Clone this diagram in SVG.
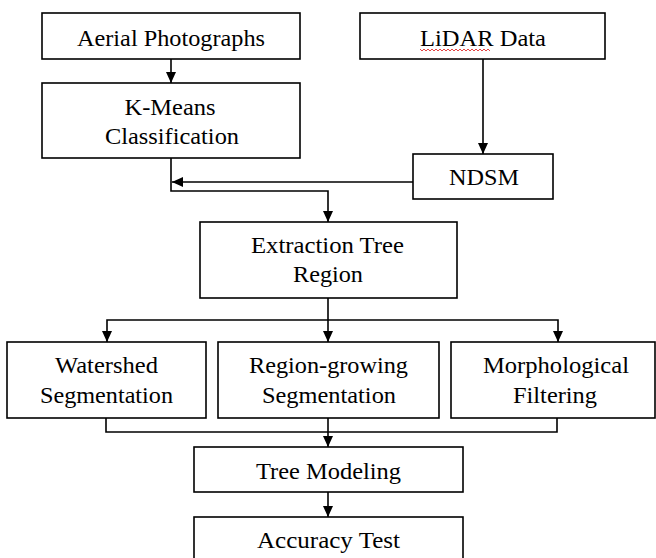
<svg xmlns="http://www.w3.org/2000/svg" width="656" height="558" viewBox="0 0 656 558">
<style>
.box{fill:#fff;stroke:#000;stroke-width:1.6}
.ln{fill:none;stroke:#000;stroke-width:1.6}
.t{font-family:"Liberation Serif","Times New Roman",serif;font-size:23px;fill:#000;text-anchor:middle}
</style>
<defs>
<marker id="ah" markerUnits="userSpaceOnUse" markerWidth="12" markerHeight="10" refX="11" refY="5" orient="auto">
<path d="M0,0 L11,5 L0,10 z" fill="#000"/>
</marker>
</defs>
<rect width="656" height="558" fill="#fff"/>
<g id="connectors">
<path class="ln" d="M171,59 V83" marker-end="url(#ah)"/>
<path class="ln" d="M483,59 V154" marker-end="url(#ah)"/>
<path class="ln" d="M413,182 H172" marker-end="url(#ah)"/>
<path class="ln" d="M171,158 V191 H328 V222" marker-end="url(#ah)"/>
<path class="ln" d="M328,298 V342" marker-end="url(#ah)"/>
<path class="ln" d="M328,320 H107 V342" marker-end="url(#ah)"/>
<path class="ln" d="M328,320 H558 V342" marker-end="url(#ah)"/>
<path class="ln" d="M106,418 V432 H557 V418"/>
<path class="ln" d="M328,418 V447" marker-end="url(#ah)"/>
<path class="ln" d="M328,492 V517" marker-end="url(#ah)"/>
</g>
<g id="aerial">
<rect class="box" x="42" y="13" width="258" height="46"/>
<text class="t" x="171" y="46" textLength="188" lengthAdjust="spacingAndGlyphs">Aerial Photographs</text>
</g>
<g id="lidar">
<rect class="box" x="360" y="13" width="245" height="46"/>
<text class="t" x="483" y="46" textLength="126" lengthAdjust="spacingAndGlyphs">LiDAR Data</text>
<polyline fill="none" stroke="#e03030" stroke-width="0.9" points="420,49 422,51 424,49 426,51 428,49 430,51 432,49 434,51 436,49 438,51 440,49 442,51 444,49 446,51 448,49 450,51 452,49 454,51 456,49 458,51 460,49 462,51 464,49 466,51 468,49 470,51 472,49 474,51 476,49 478,51 480,49 482,51 484,49 486,51 488,49 490,51"/>
</g>
<g id="kmeans">
<rect class="box" x="42" y="83" width="258" height="75"/>
<text class="t" x="170" y="115" textLength="91" lengthAdjust="spacingAndGlyphs">K-Means</text>
<text class="t" x="172" y="144" textLength="134" lengthAdjust="spacingAndGlyphs">Classification</text>
</g>
<g id="ndsm">
<rect class="box" x="413" y="154" width="140" height="45"/>
<text class="t" x="484" y="185" textLength="70" lengthAdjust="spacingAndGlyphs">NDSM</text>
</g>
<g id="extraction">
<rect class="box" x="200" y="222" width="257" height="76"/>
<text class="t" x="327.5" y="253" textLength="153" lengthAdjust="spacingAndGlyphs">Extraction Tree</text>
<text class="t" x="328" y="282" textLength="70" lengthAdjust="spacingAndGlyphs">Region</text>
</g>
<g id="watershed">
<rect class="box" x="7" y="342" width="199" height="76"/>
<text class="t" x="106.5" y="373" textLength="103" lengthAdjust="spacingAndGlyphs">Watershed</text>
<text class="t" x="106.5" y="403" textLength="133" lengthAdjust="spacingAndGlyphs">Segmentation</text>
</g>
<g id="regiongrowing">
<rect class="box" x="218" y="342" width="221" height="76"/>
<text class="t" x="328.5" y="373" textLength="159" lengthAdjust="spacingAndGlyphs">Region-growing</text>
<text class="t" x="329" y="403" textLength="134" lengthAdjust="spacingAndGlyphs">Segmentation</text>
</g>
<g id="morphological">
<rect class="box" x="451" y="342" width="204" height="76"/>
<text class="t" x="556" y="373" textLength="146" lengthAdjust="spacingAndGlyphs">Morphological</text>
<text class="t" x="555" y="403" textLength="84" lengthAdjust="spacingAndGlyphs">Filtering</text>
</g>
<g id="treemodeling">
<rect class="box" x="194" y="447" width="269" height="45"/>
<text class="t" x="328.5" y="479" textLength="145" lengthAdjust="spacingAndGlyphs">Tree Modeling</text>
</g>
<g id="accuracy">
<rect class="box" x="194" y="517" width="269" height="46"/>
<text class="t" x="328.5" y="548" textLength="143" lengthAdjust="spacingAndGlyphs">Accuracy Test</text>
</g>
</svg>
